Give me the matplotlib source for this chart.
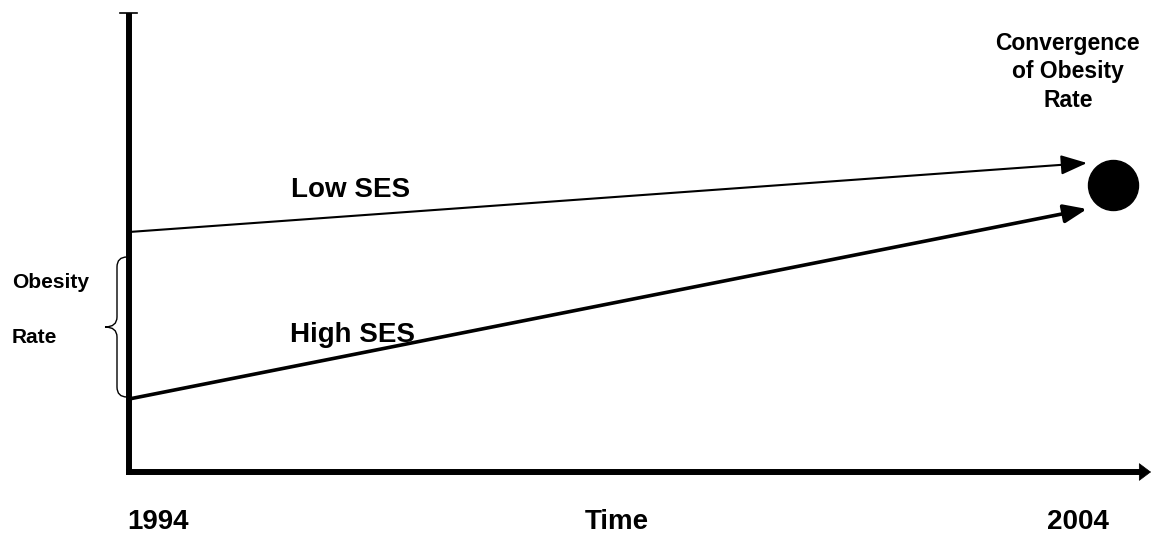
import matplotlib.pyplot as plt
from matplotlib.path import Path
from matplotlib.patches import PathPatch

# data (obesity rate in arbitrary units, schematic)
years = [1994, 2004]
low_ses = [240, 309]
high_ses = [73, 263]
converge_year = 2004.27
converge_rate = 287
brace_range = (75, 215)   # spread of obesity rate shown by the brace
axis_top = 459

plt.rcParams['font.family'] = ['Liberation Sans', 'DejaVu Sans']

fig = plt.figure(figsize=(11.51, 5.37), dpi=100)
ax = fig.add_axes([0, 0, 1, 1])
px = 95.8  # pixels per year
xmax = 1994 + (1151 - 129) / px
ax.set_xlim(1994 - 129 / px, xmax)
ax.set_ylim(-65, 472)
ax.axis('off')

# y axis with small cap at the top
ax.plot([years[0], years[0]], [-3, axis_top], color='black', lw=4.3, solid_capstyle='butt')
ax.plot([years[0] - 9 / px, years[0] + 8 / px], [axis_top, axis_top], color='black', lw=1.2)

# x axis: thick shaft plus a small filled head
ax.plot([years[0] - 3 / px, xmax - 8 / px], [0, 0], color='black', lw=4.3, solid_capstyle='butt')
ax.annotate('', xy=(xmax, 0), xytext=(xmax - 14 / px, 0),
            arrowprops=dict(arrowstyle='-|>,head_length=0.4,head_width=0.3',
                            mutation_scale=20, lw=0.5, color='black',
                            shrinkA=0, shrinkB=0))

# the two SES trends
ax.annotate('', xy=(years[1], low_ses[1]), xytext=(years[0], low_ses[0]),
            arrowprops=dict(arrowstyle='-|>,head_length=0.8,head_width=0.3',
                            mutation_scale=20, lw=1.5, color='black',
                            shrinkA=0, shrinkB=0))
ax.annotate('', xy=(years[1], high_ses[1]), xytext=(years[0], high_ses[0]),
            arrowprops=dict(arrowstyle='-|>,head_length=0.7,head_width=0.28',
                            mutation_scale=20, lw=2.6, color='black',
                            shrinkA=0, shrinkB=0))

# convergence point
ax.plot([converge_year], [converge_rate], 'o', color='black', markersize=36)

# brace
lo, hi = brace_range
mid = (lo + hi) / 2
xe = years[0] - 2 / px
xv = years[0] - 12 / px
xt = years[0] - 24 / px
verts = [(xe, hi), (xv, hi), (xv, hi - 10), (xv, mid + 10), (xv, mid), (xt, mid),
         (xv, mid), (xv, mid - 10), (xv, lo + 10), (xv, lo), (xe, lo)]
codes = [Path.MOVETO, Path.CURVE3, Path.CURVE3, Path.LINETO, Path.CURVE3, Path.CURVE3,
         Path.CURVE3, Path.CURVE3, Path.LINETO, Path.CURVE3, Path.CURVE3]
ax.add_patch(PathPatch(Path(verts, codes), fill=False, lw=1.0, color='black'))

# labels
big = dict(fontsize=20, fontweight='bold', ha='center', va='baseline')
ax.text(1996.31, 275, 'Low SES', **big)
ax.text(1996.33, 130, 'High SES', **big)
ax.text(1994.30, -57, '1994', **big)
ax.text(1999.09, -57, 'Time', **big)
ax.text(2003.91, -57, '2004', **big)

ax.text(1992.78, 184, 'Obesity', fontsize=15, fontweight='bold', va='baseline')
ax.text(1992.78, 129, 'Rate', fontsize=15, fontweight='bold', va='baseline')

for label, y in zip(['Convergence', 'of Obesity', 'Rate'], [422, 394, 365]):
    ax.text(2003.80, y, label, fontsize=16.5, fontweight='bold', ha='center', va='baseline')

fig.savefig('out.png', dpi=100, facecolor='white')
